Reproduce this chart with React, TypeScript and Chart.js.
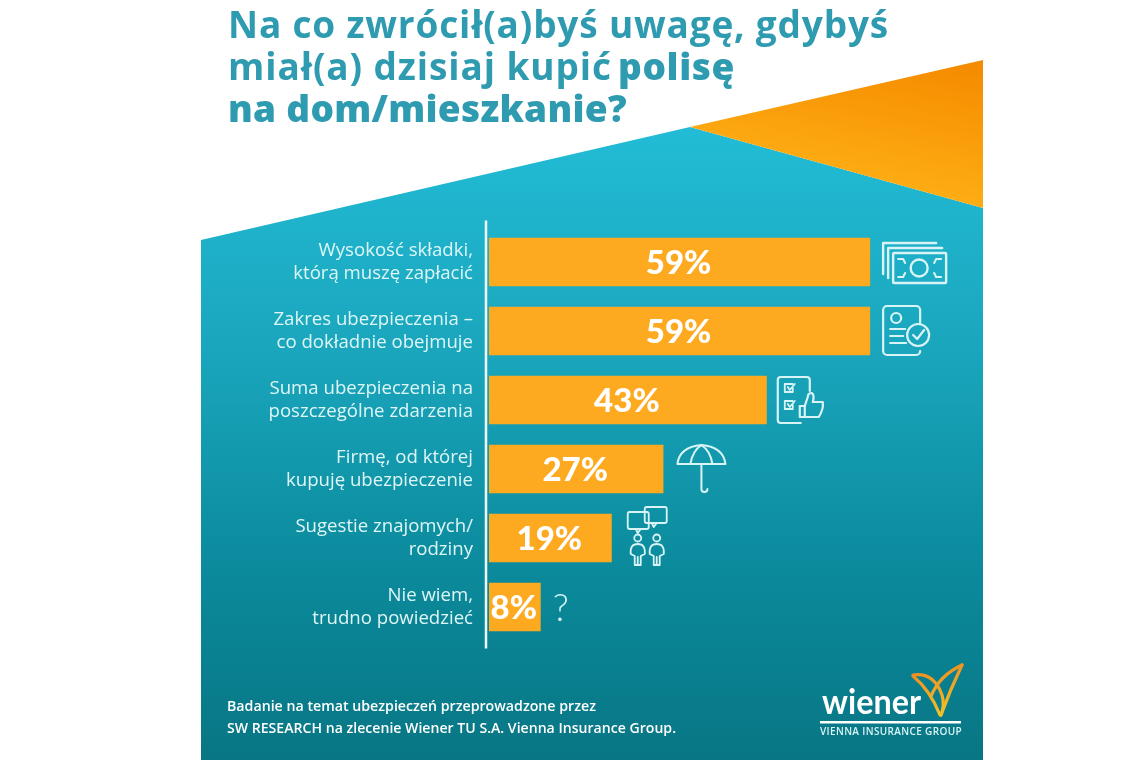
import React, { useEffect, useRef } from "react";
import { Chart, registerables } from "chart.js";

Chart.register(...registerables);

const categories: string[][] = [
  ["Wysokość składki,", "którą muszę zapłacić"],
  ["Zakres ubezpieczenia –", "co dokładnie obejmuje"],
  ["Suma ubezpieczenia na", "poszczególne zdarzenia"],
  ["Firmę, od której", "kupuję ubezpieczenie"],
  ["Sugestie znajomych/", "rodziny"],
  ["Nie wiem,", "trudno powiedzieć"],
];
const values: number[] = [59, 59, 43, 27, 19, 8];
const titleLine1 = "Na co zwrócił(a)byś uwagę, gdybyś";
const titleLine2a = "miał(a) dzisiaj kupić";
const titleLine2b = "polisę";
const titleLine3 = "na dom/mieszkanie?";
const footnote = [
  "Badanie na temat ubezpieczeń przeprowadzone przez",
  "SW RESEARCH na zlecenie Wiener TU S.A. Vienna Insurance Group.",
];

const ICON = "#d9f4f6";

function fitText(c: any, text: string, x: number, y: number, width: number) {
  c.letterSpacing = "0px";
  const w = c.measureText(text).width;
  if (w < width) {
    c.letterSpacing = (width - w) / text.length + "px";
    c.fillText(text, x, y);
    c.letterSpacing = "0px";
  } else {
    c.fillText(text, x, y, width);
  }
}

function rr(c: CanvasRenderingContext2D, x: number, y: number, w: number, h: number, r = 2) {
  c.beginPath();
  c.roundRect(x, y, w, h, r);
  c.stroke();
}
function line(c: CanvasRenderingContext2D, pts: number[][]) {
  c.beginPath();
  pts.forEach((p, i) => (i ? c.lineTo(p[0], p[1]) : c.moveTo(p[0], p[1])));
  c.stroke();
}
function circle(c: CanvasRenderingContext2D, x: number, y: number, r: number) {
  c.beginPath();
  c.arc(x, y, r, 0, Math.PI * 2);
  c.stroke();
}

// Each icon is drawn relative to (x = end of bar, y = centre of bar)
const icons: ((c: CanvasRenderingContext2D, x: number, y: number) => void)[] = [
  (c, x, y) => {
    c.lineWidth = 2.4;
    line(c, [[x + 13, y + 12], [x + 13, y - 19], [x + 66, y - 19]]);
    line(c, [[x + 18, y + 16], [x + 18, y - 14], [x + 72, y - 14]]);
    rr(c, x + 23, y - 9, 53, 30, 1);
    circle(c, x + 49, y + 6, 8.5);
    c.lineWidth = 2;
    line(c, [[x + 28, y - 3], [x + 33, y - 3], [x + 35, y + 1]]);
    line(c, [[x + 71, y - 3], [x + 66, y - 3], [x + 64, y + 1]]);
    line(c, [[x + 28, y + 15], [x + 33, y + 15], [x + 35, y + 11]]);
    line(c, [[x + 71, y + 15], [x + 66, y + 15], [x + 64, y + 11]]);
  },
  (c, x, y) => {
    c.lineWidth = 2.2;
    c.beginPath();
    c.moveTo(x + 50, y - 8);
    c.lineTo(x + 50, y - 21);
    c.arcTo(x + 50, y - 25, x + 46, y - 25, 4);
    c.lineTo(x + 17, y - 25);
    c.arcTo(x + 13, y - 25, x + 13, y - 21, 4);
    c.lineTo(x + 13, y + 20);
    c.arcTo(x + 13, y + 24, x + 17, y + 24, 4);
    c.lineTo(x + 46, y + 24);
    c.arcTo(x + 50, y + 24, x + 50, y + 20, 4);
    c.stroke();
    circle(c, x + 26, y - 13, 5);
    line(c, [[x + 20, y - 2], [x + 35, y - 2]]);
    line(c, [[x + 20, y + 5], [x + 33, y + 5]]);
    line(c, [[x + 20, y + 12], [x + 36, y + 12]]);
    circle(c, x + 48, y + 4, 11);
    line(c, [[x + 43, y + 4], [x + 47, y + 8], [x + 54, y - 1]]);
  },
  (c, x, y) => {
    c.lineWidth = 2.2;
    c.beginPath();
    c.moveTo(x + 43, y - 9);
    c.lineTo(x + 43, y - 20);
    c.arcTo(x + 43, y - 23, x + 40, y - 23, 3);
    c.lineTo(x + 14, y - 23);
    c.arcTo(x + 11, y - 23, x + 11, y - 20, 3);
    c.lineTo(x + 11, y + 20);
    c.arcTo(x + 11, y + 23, x + 14, y + 23, 3);
    c.lineTo(x + 34, y + 23);
    c.stroke();
    c.lineWidth = 1.8;
    line(c, [[x + 26, y - 16], [x + 18, y - 16], [x + 18, y - 8], [x + 26, y - 8], [x + 26, y - 12]]);
    line(c, [[x + 26, y + 1], [x + 18, y + 1], [x + 18, y + 9], [x + 26, y + 9], [x + 26, y + 5]]);
    line(c, [[x + 21, y - 13], [x + 23, y - 10], [x + 28, y - 16]]);
    line(c, [[x + 21, y + 4], [x + 23, y + 7], [x + 28, y + 1]]);
    c.lineWidth = 2.2;
    c.beginPath();
    c.moveTo(x + 33, y + 6);
    c.lineTo(x + 33, y + 17);
    c.lineTo(x + 52, y + 17);
    c.quadraticCurveTo(x + 57, y + 9, x + 56, y + 2);
    c.lineTo(x + 46, y + 2);
    c.quadraticCurveTo(x + 48, y - 5, x + 45, y - 7);
    c.quadraticCurveTo(x + 41, y - 7, x + 41, y - 3);
    c.lineTo(x + 38, y + 6);
    c.closePath();
    c.stroke();
    line(c, [[x + 38, y + 6], [x + 38, y + 17]]);
  },
  (c, x, y) => {
    c.lineWidth = 2;
    const cx = x + 38;
    const base = y - 5;
    c.beginPath();
    c.moveTo(cx - 24, base);
    c.quadraticCurveTo(cx - 22, y - 22, cx, y - 24);
    c.quadraticCurveTo(cx + 22, y - 22, cx + 24, base);
    c.closePath();
    c.stroke();
    c.beginPath();
    c.moveTo(cx - 11, base);
    c.quadraticCurveTo(cx - 9, y - 18, cx, y - 24);
    c.quadraticCurveTo(cx + 9, y - 18, cx + 11, base);
    c.stroke();
    c.beginPath();
    c.moveTo(cx, base);
    c.lineTo(cx, y + 20);
    c.arc(cx + 3, y + 20, 3, Math.PI, 0, true);
    c.stroke();
  },
  (c, x, y) => {
    c.lineWidth = 1.8;
    rr(c, x + 16, y - 26, 21, 17, 2);
    rr(c, x + 33, y - 31, 22, 16, 2);
    line(c, [[x + 24, y - 9], [x + 26, y - 5], [x + 29, y - 9]]);
    line(c, [[x + 40, y - 15], [x + 42, y - 11], [x + 45, y - 15]]);
    [x + 26, x + 45].forEach((p) => {
      circle(c, p, y, 3.5);
      c.beginPath();
      c.moveTo(p - 3, y + 27);
      c.lineTo(p - 3, y + 18);
      c.lineTo(p - 7, y + 16);
      c.quadraticCurveTo(p - 8, y + 6, p, y + 6);
      c.quadraticCurveTo(p + 8, y + 6, p + 7, y + 16);
      c.lineTo(p + 3, y + 18);
      c.lineTo(p + 3, y + 27);
      c.closePath();
      c.stroke();
      line(c, [[p, y + 19], [p, y + 27]]);
    });
  },
  (c, x, y) => {
    c.fillStyle = ICON;
    c.font = "300 37px Lato";
    c.textAlign = "center";
    c.textBaseline = "alphabetic";
    c.fillText("?", x + 20, y + 14);
  },
];

const decor = {
  id: "decor",
  beforeDraw(chart: Chart) {
    const c = chart.ctx;
    c.save();
    c.fillStyle = "#ffffff";
    c.fillRect(0, 0, chart.width, chart.height);
    const teal = c.createLinearGradient(0, 127, 0, 760);
    teal.addColorStop(0, "#22bcd6");
    teal.addColorStop(0.35, "#1aa6bd");
    teal.addColorStop(0.7, "#0b8a9c");
    teal.addColorStop(1, "#087684");
    c.fillStyle = teal;
    c.beginPath();
    c.moveTo(201, 240);
    c.lineTo(690, 127);
    c.lineTo(983, 208);
    c.lineTo(983, 760);
    c.lineTo(201, 760);
    c.closePath();
    c.fill();
    const org = c.createLinearGradient(930, 60, 900, 208);
    org.addColorStop(0, "#f58c00");
    org.addColorStop(1, "#ffb116");
    c.fillStyle = org;
    c.beginPath();
    c.moveTo(690, 127);
    c.lineTo(983, 60);
    c.lineTo(983, 208);
    c.closePath();
    c.fill();

    // title
    c.fillStyle = "#2e9bb0";
    c.textAlign = "left";
    c.textBaseline = "alphabetic";
    c.font = '700 37px "Open Sans"';
    fitText(c, titleLine1, 228, 38, 661);
    fitText(c, titleLine2a, 228, 80, 384);
    c.font = '800 37px "Open Sans"';
    fitText(c, titleLine2b, 618, 80, 117);
    fitText(c, titleLine3, 228, 122, 399);

    // footnote
    c.fillStyle = "#ffffff";
    c.font = '600 14.2px "Open Sans"';
    c.fillText(footnote[0], 227, 711, 370);
    c.fillText(footnote[1], 227, 733, 449);

    // logo
    c.font = "700 34px Lato";
    fitText(c, "wiener", 822, 714, 99);
    c.fillRect(820, 721, 141, 2.5);
    c.font = '600 10px "Open Sans"';
    c.fillStyle = "#d9f4f6";
    fitText(c, "VIENNA INSURANCE GROUP", 820, 735, 142);
    c.lineCap = "round";
    c.lineJoin = "round";
    const lg = c.createLinearGradient(925, 665, 940, 717);
    lg.addColorStop(0, "#ee8a22");
    lg.addColorStop(1, "#eec32a");
    c.strokeStyle = lg;
    c.lineWidth = 3.2;
    c.beginPath();
    c.moveTo(913, 675);
    c.quadraticCurveTo(934, 672, 942, 695);
    c.quadraticCurveTo(945, 705, 941, 715);
    c.stroke();
    c.beginPath();
    c.moveTo(913, 676);
    c.quadraticCurveTo(930, 690, 940, 715);
    c.stroke();
    c.beginPath();
    c.moveTo(962, 665);
    c.quadraticCurveTo(940, 675, 931, 696);
    c.stroke();
    c.beginPath();
    c.moveTo(962, 665);
    c.quadraticCurveTo(950, 690, 941, 715);
    c.stroke();
    c.restore();
  },
  afterDatasetsDraw(chart: Chart) {
    const c = chart.ctx;
    const y = chart.scales.y;
    c.save();
    // axis line, extends above and below the plot
    c.strokeStyle = "#eefafb";
    c.lineWidth = 2.5;
    line(c, [[y.right - 3, chart.chartArea.top - 7], [y.right - 3, chart.chartArea.bottom + 7]]);
    // value labels and icons
    const meta = chart.getDatasetMeta(0);
    meta.data.forEach((bar: any, i: number) => {
      c.fillStyle = "#ffffff";
      c.font = "900 33px Lato";
      c.textAlign = "center";
      c.textBaseline = "middle";
      c.fillText(values[i] + "%", (bar.x + bar.base) / 2 - 1, bar.y + 1);
      c.strokeStyle = ICON;
      c.lineCap = "round";
      c.lineJoin = "round";
      icons[i](c, bar.x, bar.y);
    });
    c.restore();
  },
};

export default function App() {
  const ref = useRef<HTMLCanvasElement>(null);
  useEffect(() => {
    const chart = new Chart(ref.current!, {
      type: "bar",
      data: {
        labels: categories,
        datasets: [
          {
            data: values,
            backgroundColor: "#fdaa20",
            barPercentage: 0.7,
            categoryPercentage: 1,
          },
        ],
      },
      options: {
        indexAxis: "y",
        responsive: false,
        animation: false,
        devicePixelRatio: 1,
        layout: { padding: { left: 0, right: 5, top: 227.5, bottom: 118.5 } },
        plugins: { legend: { display: false }, tooltip: { enabled: false } },
        scales: {
          x: { display: false, min: 0, max: 100 },
          y: {
            afterFit: (s: any) => {
              s.width = 489;
            },
            grid: { display: false, drawTicks: false },
            border: { display: false },
            ticks: {
              color: "#dff6f7",
              padding: 16,
              autoSkip: false,
              font: { family: '"Open Sans"', size: 18.6, lineHeight: 1.24 },
            },
          },
        },
      },
      plugins: [decor],
    });
    return () => chart.destroy();
  }, []);
  return (
    <div style={{ position: "absolute", left: 0, top: 0, width: 1140, height: 760 }}>
      <canvas ref={ref} width={1140} height={760} style={{ display: "block" }} />
    </div>
  );
}
